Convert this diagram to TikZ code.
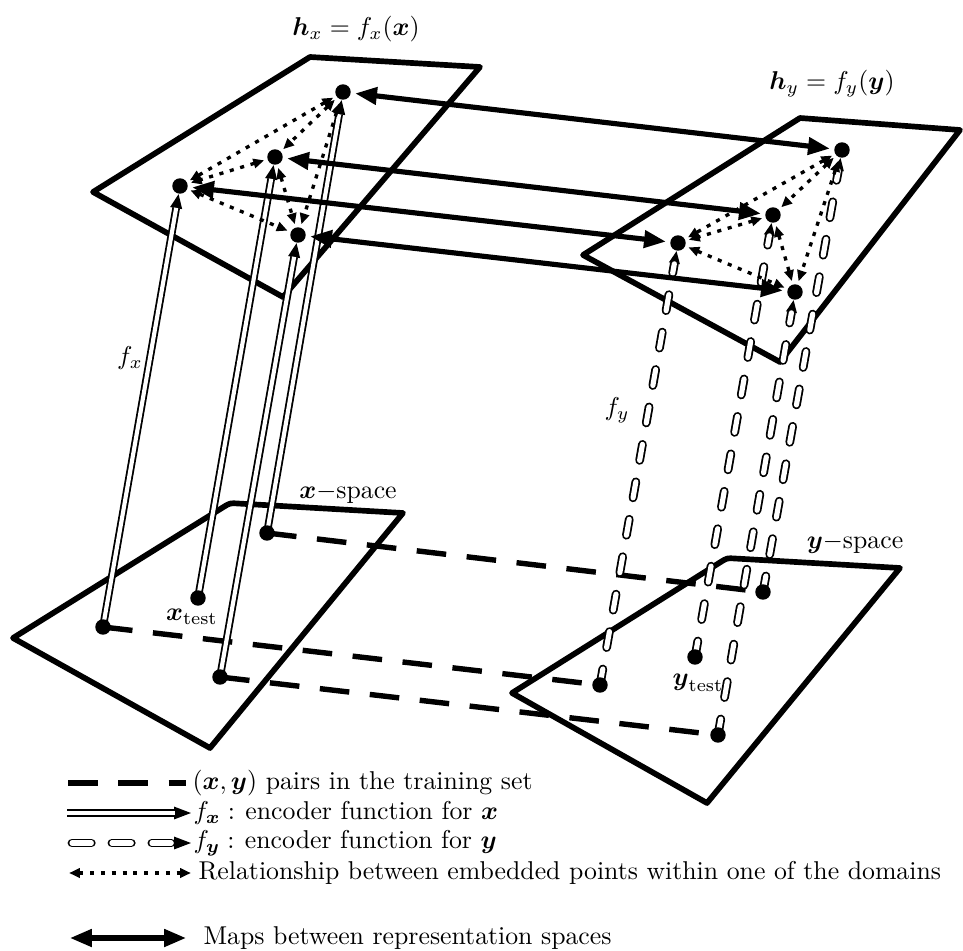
\documentclass[tikz,border=0pt]{standalone}
\usepackage{amsmath}
\usetikzlibrary{arrows.meta,calc}
\tikzset{
  dotpt/.style={circle, inner sep=0pt, minimum size=6pt},
  plane/.style={line width=2.2pt, line join=round},
  pair/.style={line width=2.1pt, dash pattern=on 11.5pt off 8pt},
  mapar/.style={line width=2pt, {Triangle[length=8.5pt,width=6.5pt]}-{Triangle[length=8.5pt,width=6.5pt]}, shorten <=1.5pt, shorten >=1.5pt},
  rel/.style={line width=1.3pt, dash pattern=on 1.6pt off 2.6pt, {Triangle[length=4.2pt,width=3.6pt]}-{Triangle[length=4.2pt,width=3.6pt]}, shorten <=1.2pt, shorten >=1.2pt},
  enc/.style={line width=0.7pt, double=white, double distance=1.6pt},
  enchead/.style={line width=0.5pt, -{Triangle[length=5.5pt,width=4.6pt]}},
  fyl/.style={line width=0.7pt, double=white, double distance=2pt, line cap=round, dash pattern=on 6.3pt off 8.45pt},
  fyleg/.style={line width=0.7pt, double=white, double distance=2pt, line cap=round, dash pattern=on 7.5pt off 8pt},
  fyhead/.style={line width=0.5pt, -{Triangle[length=4.8pt,width=4.2pt]}},
  leghead/.style={line width=0.5pt, -{Triangle[length=6.5pt,width=4.8pt]}},
  lbl/.style={inner sep=0pt},
}
\newcommand{\encarr}[2]{%
  \draw[enchead] ($(#2)!9pt!(#1)$) -- (#2);
  \draw[enc, shorten >=5.4pt] (#1.center) -- (#2);}
\newcommand{\fyarr}[2]{%
  \draw[fyhead] ($(#2)!8.2pt!(#1)$) -- (#2);
  \draw[fyl, shorten >=5pt] (#1.center) -- (#2);}
\begin{document}
\begin{tikzpicture}[x=0.388pt,y=-0.388pt]
\useasboundingbox (0,0) rectangle (963,951);

% points
\node[dotpt] (A1) at (343,92) {};
\node[dotpt] (A2) at (275,157) {};
\node[dotpt] (A3) at (180,186) {};
\node[dotpt] (A4) at (298,235) {};
\node[dotpt] (B1) at (842,150) {};
\node[dotpt] (B2) at (773,215) {};
\node[dotpt] (B3) at (678,243) {};
\node[dotpt] (B4) at (795,292) {};
\node[dotpt] (X1) at (267,533) {};
\node[dotpt] (XT) at (198,598) {};
\node[dotpt] (X2) at (103,627) {};
\node[dotpt] (X3) at (220,677) {};
\node[dotpt] (Y1) at (763,592) {};
\node[dotpt] (YT) at (695,657) {};
\node[dotpt] (Y2) at (600,685) {};
\node[dotpt] (Y3) at (718,735) {};

% planes
\draw[plane] (93,192) -- (310,57) -- (480,67) -- (283,297) -- cycle;
\draw[plane] (583,255) -- (800,118) -- (960,130) -- (780,362) -- cycle;
\draw[plane] (13,638) -- (223.2,507.2) .. controls (230,503) .. (238,503.5) -- (403,513) -- (210,748) -- cycle;
\draw[plane] (512,693) -- (720.2,562.3) .. controls (727,558) .. (735,558.5) -- (900,568) -- (707,803) -- cycle;

% training pairs
\draw[pair] (X1.center) -- (Y1.center);
\draw[pair] (X2.center) -- (Y2.center);
\draw[pair] (X3.center) -- (Y3.center);

% encoders
\encarr{X2}{A3}
\encarr{XT}{A2}
\encarr{X3}{A4}
\encarr{X1}{A1}
\fyarr{Y2}{B3}
\fyarr{YT}{B2}
\fyarr{Y3}{B4}
\fyarr{Y1}{B1}

% relations within domains
\draw[rel] (A1) -- (A2);
\draw[rel] (A1) -- (A3);
\draw[rel] (A1) -- (A4);
\draw[rel] (A2) -- (A3);
\draw[rel] (A2) -- (A4);
\draw[rel] (A3) -- (A4);
\draw[rel] (B1) -- (B2);
\draw[rel] (B1) -- (B3);
\draw[rel] (B1) -- (B4);
\draw[rel] (B2) -- (B3);
\draw[rel] (B2) -- (B4);
\draw[rel] (B3) -- (B4);

% maps between spaces
\draw[mapar] (A1) -- (B1);
\draw[mapar] (A2) -- (B2);
\draw[mapar] (A3) -- (B3);
\draw[mapar] (A4) -- (B4);

% dots on top
\foreach \p in {A1,A2,A3,A4,B1,B2,B3,B4,X1,XT,X2,X3,Y1,YT,Y2,Y3}
  \fill (\p) circle (3pt);

% labels
\node (hx) at (356,29) {$\boldsymbol{h}_x = f_x(\boldsymbol{x})$};
\node (hy) at (832,84) {$\boldsymbol{h}_y = f_y(\boldsymbol{y})$};
\node (xs) at (348,493) {$\boldsymbol{x}-$space};
\node (xt) at (192,617) {$\boldsymbol{x}_{\mathrm{test}}$};
\node (ys) at (855,543) {$\boldsymbol{y}-$space};
\node (yt) at (698,683) {$\boldsymbol{y}_{\mathrm{test}}$};
\node (fxl) at (130,358) {$f_x$};
\node (fyl) at (617,410) {$f_y$};

% legend
\coordinate (L1a) at (68,783); \coordinate (L1b) at (186,783);
\draw[pair] (L1a) -- (L1b);
\node[lbl, anchor=west] (T1) at (192,783) {$(\boldsymbol{x},\boldsymbol{y})$ pairs in the training set};

\coordinate (L2a) at (67,813); \coordinate (L2m) at (172,813); \coordinate (L2b) at (191,813);
\draw[leghead] (L2m) -- (L2b);
\draw[enc, shorten >=6.4pt] (L2a) -- (L2b);
\node[lbl, anchor=west] (T2) at (193,813) {$f_{\boldsymbol{x}}:$\hspace{4pt}encoder function for $\boldsymbol{x}$};

\coordinate (L3a) at (72,843); \coordinate (L3m) at (172,843); \coordinate (L3b) at (191,843);
\draw[leghead] (L3m) -- (L3b);
\draw[fyleg, shorten >=6.2pt] (L3a) -- (L3b);
\node[lbl, anchor=west] (T3) at (193,843) {$f_{\boldsymbol{y}}:$\hspace{4pt}encoder function for $\boldsymbol{y}$};

\coordinate (L4a) at (66,873); \coordinate (L4b) at (194,873);
\draw[rel] (L4a) -- (L4b);
\node[lbl, anchor=west] (T4) at (198,873) {Relationship between embedded points within one of the domains};

\coordinate (L5a) at (66,938); \coordinate (L5b) at (190,938);
\draw[mapar] (L5a) -- (L5b);
\node[lbl, anchor=west] (T5) at (203,938) {Maps between representation spaces};
\end{tikzpicture}
\end{document}
